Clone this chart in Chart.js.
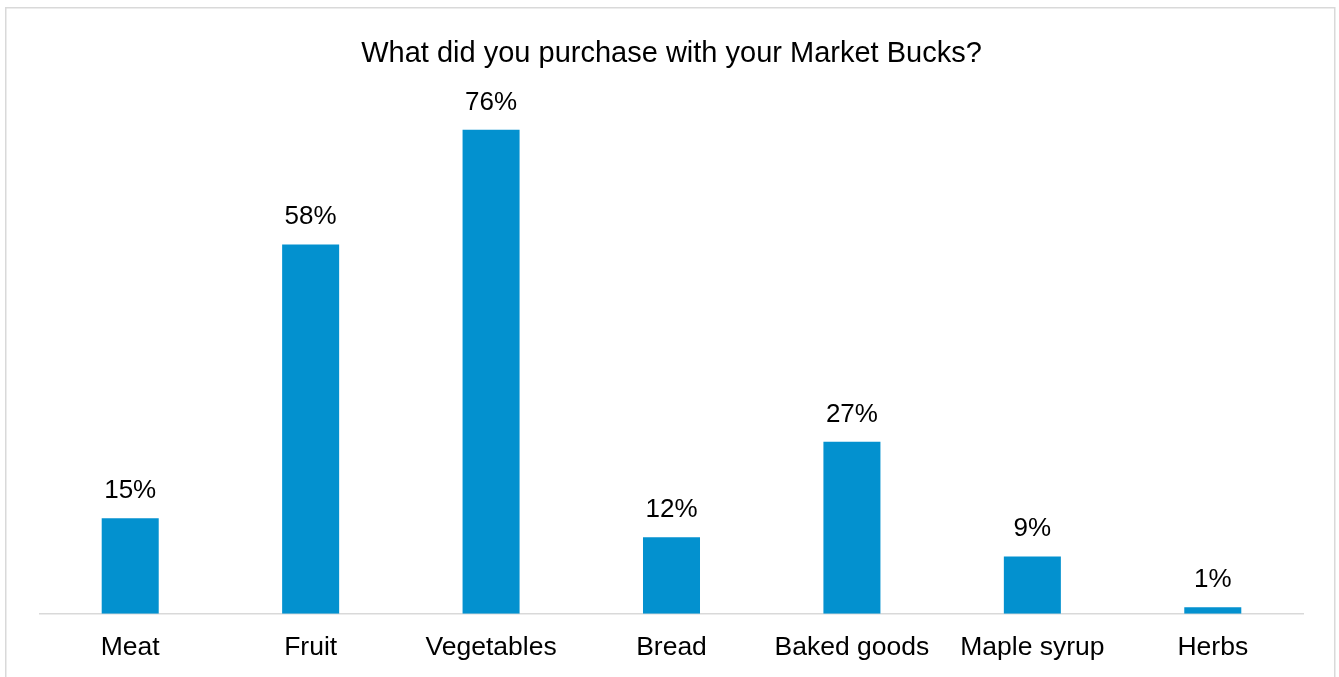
<!DOCTYPE html>
<html>
<head>
<meta charset="utf-8">
<script src="https://cdn.jsdelivr.net/npm/chart.js@4"></script>
<style>
  html, body { margin: 0; padding: 0; background: #ffffff; }
  #wrap { width: 1339px; height: 677px; position: relative; }
</style>
</head>
<body>
<div id="wrap"><canvas id="chart" width="1339" height="677"></canvas></div>
<script>
const categories = ['Meat', 'Fruit', 'Vegetables', 'Bread', 'Baked goods', 'Maple syrup', 'Herbs'];
const shares = [15, 58, 76, 12, 27, 9, 1];
const chartTitle = 'What did you purchase with your Market Bucks?';

const FONT = '"Liberation Sans", Arial, sans-serif';
const BAR_COLOR = '#0391CF';

// Light grey frame around the whole chart
const framePlugin = {
  id: 'frame',
  beforeDraw(chart) {
    const ctx = chart.ctx;
    ctx.save();
    ctx.fillStyle = '#ffffff';
    ctx.fillRect(0, 0, chart.width, chart.height);
    ctx.strokeStyle = '#d9d9d9';
    ctx.lineWidth = 1.5;
    ctx.strokeRect(5.75, 7.75, 1329, 720);
    ctx.restore();
  }
};

// Percentage label above each bar
const valueLabels = {
  id: 'valueLabels',
  afterDatasetsDraw(chart) {
    const ctx = chart.ctx;
    const meta = chart.getDatasetMeta(0);
    ctx.save();
    ctx.font = '26px ' + FONT;
    ctx.fillStyle = '#000000';
    ctx.textAlign = 'center';
    ctx.textBaseline = 'alphabetic';
    meta.data.forEach((bar, i) => {
      ctx.fillText(shares[i] + '%', bar.x, bar.y - 20);
    });
    ctx.restore();
  }
};

new Chart(document.getElementById('chart'), {
  type: 'bar',
  data: {
    labels: categories,
    datasets: [{
      data: shares,
      backgroundColor: BAR_COLOR,
      borderWidth: 0,
      barPercentage: 1,
      categoryPercentage: 0.316
    }]
  },
  options: {
    responsive: false,
    animation: false,
    layout: { padding: { top: 8, left: 40, right: 36, bottom: -4.5 } },
    plugins: {
      legend: { display: false },
      tooltip: { enabled: false },
      title: {
        display: true,
        text: chartTitle,
        color: '#000000',
        font: { family: FONT, size: 29, weight: 'normal' },
        padding: { top: 29, bottom: 32.6 }
      }
    },
    scales: {
      x: {
        grid: { display: false, drawTicks: false },
        border: { display: true, color: '#d9d9d9', width: 1.5 },
        ticks: {
          color: '#000000',
          font: { family: FONT, size: 26.5 },
          padding: 18,
          maxRotation: 0,
          autoSkip: false
        }
      },
      y: {
        display: false,
        min: 0,
        max: 80
      }
    }
  },
  plugins: [framePlugin, valueLabels]
});
</script>
</body>
</html>
